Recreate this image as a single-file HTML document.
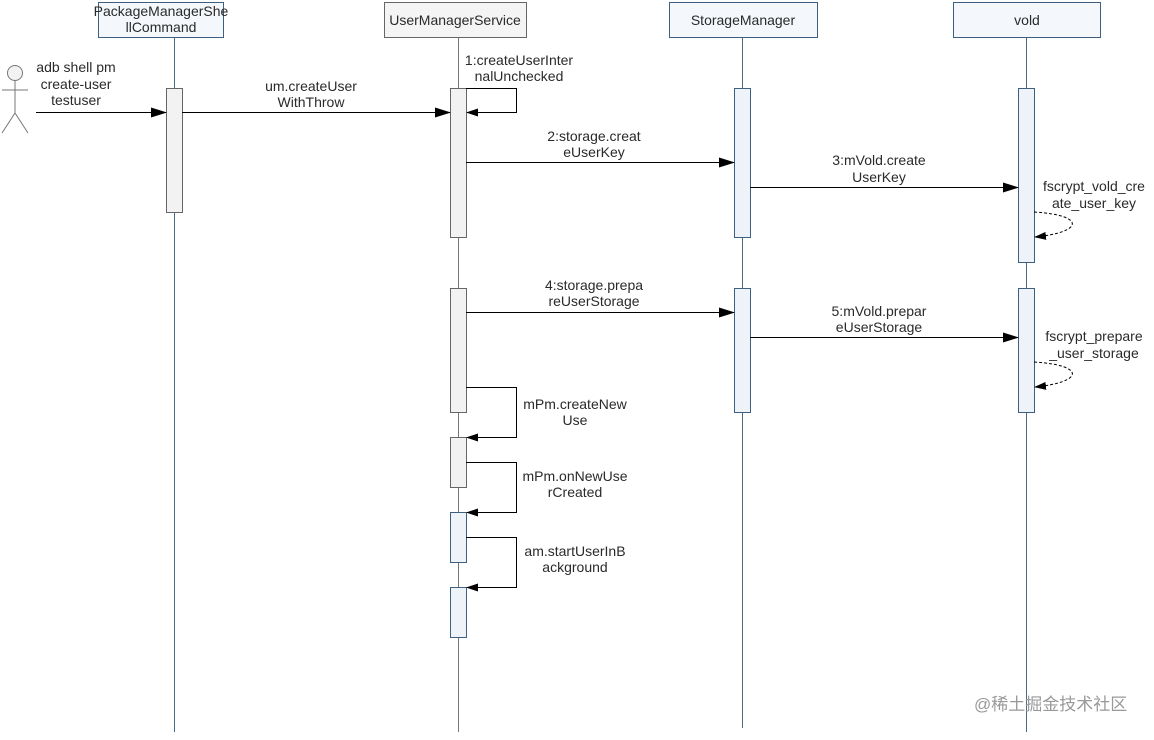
<!DOCTYPE html>
<html><head><meta charset="utf-8"><style>
body{margin:0;background:#fff}
svg text{font-family:"Liberation Sans","Noto Sans CJK SC",sans-serif;font-size:14px;fill:#2a2a2a}
</style></head><body>
<svg width="1154" height="735" viewBox="0 0 1154 735" xmlns="http://www.w3.org/2000/svg">
<defs>
<marker id="a" markerWidth="16" markerHeight="10" refX="15" refY="5" orient="auto" markerUnits="userSpaceOnUse"><path d="M0,0 L16,5 L0,10 Z" fill="#000"/></marker>
<marker id="s" markerWidth="12" markerHeight="8" refX="11" refY="4" orient="auto" markerUnits="userSpaceOnUse"><path d="M0,0 L12,4 L0,8 Z" fill="#000"/></marker>
</defs>
<g stroke-width="1">
<line x1="174.5" y1="37" x2="174.5" y2="732" stroke="#4a6a88"/>
<line x1="458.5" y1="37" x2="458.5" y2="732" stroke="#777"/>
<line x1="742.5" y1="37" x2="742.5" y2="728" stroke="#4a6a88"/>
<line x1="1026.5" y1="37" x2="1026.5" y2="732" stroke="#4a6a88"/>
</g>
<rect x="98.5" y="2.5" width="125" height="35" fill="#f4f8fc" stroke="#3d5f80"/>
<text x="161" y="16" text-anchor="middle">PackageManagerShe</text>
<text x="161" y="32" text-anchor="middle">llCommand</text>
<rect x="384.5" y="2.5" width="142" height="35" fill="#f4f4f4" stroke="#666"/>
<text x="455" y="25" text-anchor="middle">UserManagerService</text>
<rect x="669.5" y="2.5" width="148" height="35" fill="#f4f8fc" stroke="#3d5f80"/>
<text x="743" y="25" text-anchor="middle">StorageManager</text>
<rect x="953.5" y="2.5" width="147" height="35" fill="#f4f8fc" stroke="#3d5f80"/>
<text x="1027" y="25" text-anchor="middle">vold</text>
<g stroke="#777" fill="none">
<circle cx="15" cy="73" r="7.5" fill="#f2f2f2"/>
<line x1="15" y1="81" x2="15" y2="113"/>
<line x1="2" y1="90" x2="28" y2="90"/>
<line x1="15" y1="113" x2="2" y2="133"/>
<line x1="15" y1="113" x2="28" y2="133"/>
</g>
<g stroke-width="1">
<rect x="166.5" y="88.5" width="16" height="124" fill="#f2f2f2" stroke="#666"/>
<rect x="450.5" y="88.5" width="16" height="149" fill="#f2f2f2" stroke="#666"/>
<rect x="450.5" y="288.5" width="16" height="124" fill="#f2f2f2" stroke="#666"/>
<rect x="450.5" y="437.5" width="16" height="50" fill="#f2f2f2" stroke="#666"/>
<rect x="450.5" y="512.5" width="16" height="50" fill="#eef3f9" stroke="#3d5f80"/>
<rect x="450.5" y="587.5" width="16" height="50" fill="#eef3f9" stroke="#3d5f80"/>
<rect x="734.5" y="88.5" width="16" height="149" fill="#eef3f9" stroke="#3d5f80"/>
<rect x="734.5" y="288.5" width="16" height="124" fill="#eef3f9" stroke="#3d5f80"/>
<rect x="1018.5" y="88.5" width="16" height="174" fill="#eef3f9" stroke="#3d5f80"/>
<rect x="1018.5" y="288.5" width="16" height="124" fill="#eef3f9" stroke="#3d5f80"/>
</g>
<g stroke="#000" fill="none" stroke-width="1">
<line x1="36" y1="112.5" x2="166" y2="112.5" marker-end="url(#a)"/>
<line x1="182" y1="112.5" x2="450" y2="112.5" marker-end="url(#a)"/>
<polyline points="466,88.5 516.5,88.5 516.5,112.5 467,112.5" marker-end="url(#s)"/>
<line x1="466" y1="162.5" x2="734" y2="162.5" marker-end="url(#a)"/>
<line x1="750" y1="187.5" x2="1018" y2="187.5" marker-end="url(#a)"/>
<path d="M1034,212 C1085,215 1085,232 1035,237" stroke-dasharray="3,2" marker-end="url(#s)"/>
<line x1="466" y1="312.5" x2="734" y2="312.5" marker-end="url(#a)"/>
<line x1="750" y1="337.5" x2="1018" y2="337.5" marker-end="url(#a)"/>
<path d="M1034,362 C1085,365 1085,382 1035,387" stroke-dasharray="3,2" marker-end="url(#s)"/>
<polyline points="466,387.5 516.5,387.5 516.5,437.5 467,437.5" marker-end="url(#s)"/>
<polyline points="466,462.5 516.5,462.5 516.5,512.5 467,512.5" marker-end="url(#s)"/>
<polyline points="466,537.5 516.5,537.5 516.5,587.5 467,587.5" marker-end="url(#s)"/>
</g>
<g text-anchor="middle">
<text x="76" y="72">adb shell pm</text>
<text x="76" y="89">create-user</text>
<text x="76" y="105">testuser</text>
<text x="311" y="91">um.createUser</text>
<text x="311" y="107">WithThrow</text>
<text x="519" y="65">1:createUserInter</text>
<text x="519" y="81">nalUnchecked</text>
<text x="594" y="141">2:storage.creat</text>
<text x="594" y="157">eUserKey</text>
<text x="879" y="165">3:mVold.create</text>
<text x="879" y="182">UserKey</text>
<text x="1094" y="191">fscrypt_vold_cre</text>
<text x="1094" y="208">ate_user_key</text>
<text x="594" y="290">4:storage.prepa</text>
<text x="594" y="306">reUserStorage</text>
<text x="879" y="316">5:mVold.prepar</text>
<text x="879" y="332">eUserStorage</text>
<text x="1094" y="341">fscrypt_prepare</text>
<text x="1094" y="358">_user_storage</text>
<text x="575" y="409">mPm.createNew</text>
<text x="575" y="425">Use</text>
<text x="575" y="481">mPm.onNewUse</text>
<text x="575" y="497">rCreated</text>
<text x="575" y="556">am.startUserInB</text>
<text x="575" y="572">ackground</text>
</g>
<text x="974" y="710" style="font-size:17px;fill:#999">@稀土掘金技术社区</text>
</svg>
</body></html>
